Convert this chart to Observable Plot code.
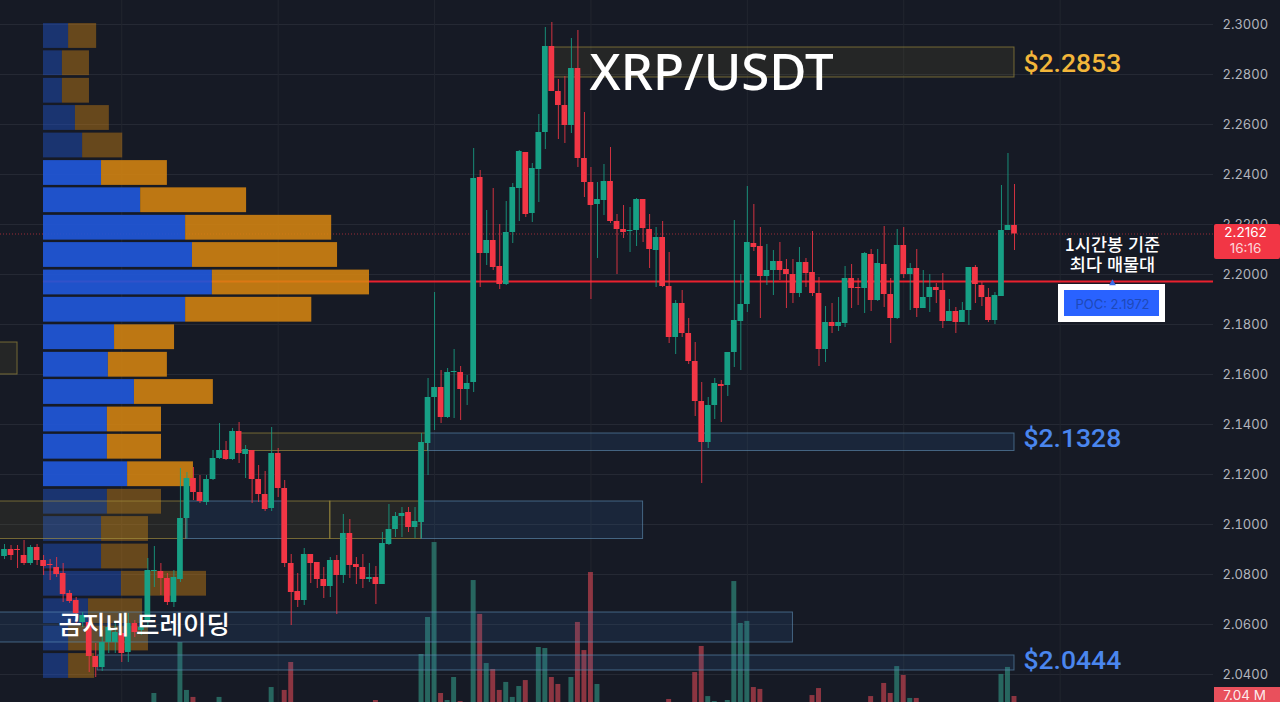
<!DOCTYPE html>
<html lang="ko">
<head>
<meta charset="utf-8">
<script src="https://cdn.jsdelivr.net/npm/d3@7"></script>
<script src="https://cdn.jsdelivr.net/npm/@observablehq/plot@0.6"></script>
<style>
html,body{margin:0;padding:0;background:#161a25;overflow:hidden;width:1280px;height:702px}
#chart{position:relative;width:1280px;height:702px}
#chart svg{position:absolute;left:0;top:0;background:transparent!important}
</style>
</head>
<body>
<div id="chart"></div>
<script>
const open = [
2.0872,2.0900,2.0900,2.0876,2.0844,2.0908,2.0856,2.0840,2.0828,2.0804,
2.0724,2.0696,2.0608,2.0608,2.0472,2.0428,2.0528,2.0528,2.0564,2.0488,
2.0604,2.0576,2.0608,2.0812,2.0812,2.0784,2.0688,2.0780,2.1024,2.1184,
2.1128,2.1088,2.1180,2.1264,2.1296,2.1260,2.1372,2.1280,2.1296,2.1180,
2.1120,2.1064,2.1284,2.1144,2.0844,2.0732,2.0696,2.0880,2.0848,2.0780,
2.0752,2.0856,2.0796,2.0964,2.0840,2.0828,2.0780,2.0788,2.0760,2.0920,
2.0980,2.1032,2.1048,2.0988,2.1008,2.1324,2.1508,2.1548,2.1428,2.1608,
2.1608,2.1540,2.1568,2.2388,2.2084,2.2136,2.2032,2.1960,2.2168,2.2344,
2.2488,2.2244,2.2420,2.2568,2.2912,2.2732,2.2676,2.2596,2.2824,2.2464,
2.2368,2.2280,2.2296,2.2372,2.2212,2.2180,2.2172,2.2176,2.2300,2.2180,
2.2096,2.2148,2.1952,2.1748,2.1884,2.1764,2.1652,2.1492,2.1328,2.1476,
2.1560,2.1556,2.1688,2.1812,2.1880,2.2124,2.2112,2.1992,2.2016,2.2052,
2.2020,2.2000,2.1924,2.2048,2.2008,2.1924,2.1700,2.1808,2.1792,2.1804,
2.1984,2.1948,2.1944,2.2080,2.1896,2.2040,2.1920,2.1824,2.2116,2.2000,
2.2024,2.1864,2.1908,2.1948,2.1936,2.1812,2.1852,2.1808,2.1856,2.2028,
2.1956,2.1908,2.1816,2.1912,2.2176,2.2196];
const close = [
2.0900,2.0876,2.0896,2.0844,2.0908,2.0856,2.0832,2.0836,2.0800,2.0720,
2.0692,2.0644,2.0636,2.0472,2.0428,2.0528,2.0588,2.0568,2.0484,2.0604,
2.0568,2.0588,2.0816,2.0816,2.0784,2.0688,2.0788,2.1024,2.1184,2.1128,
2.1092,2.1180,2.1264,2.1296,2.1260,2.1372,2.1284,2.1300,2.1180,2.1120,
2.1060,2.1284,2.1144,2.0844,2.0728,2.0696,2.0880,2.0844,2.0780,2.0752,
2.0856,2.0796,2.0964,2.0836,2.0828,2.0780,2.0788,2.0760,2.0924,2.0980,
2.1032,2.1044,2.0988,2.1012,2.1328,2.1508,2.1548,2.1428,2.1608,2.1612,
2.1540,2.1564,2.2384,2.2084,2.2136,2.2028,2.1960,2.2168,2.2348,2.2492,
2.2240,2.2424,2.2568,2.2912,2.2732,2.2676,2.2596,2.2824,2.2464,2.2368,
2.2276,2.2300,2.2372,2.2212,2.2180,2.2168,2.2176,2.2300,2.2184,2.2100,
2.2148,2.1952,2.1748,2.1884,2.1764,2.1652,2.1492,2.1328,2.1476,2.1564,
2.1552,2.1688,2.1816,2.1880,2.2128,2.2108,2.1992,2.2016,2.2052,2.2016,
2.2000,2.1924,2.2048,2.2004,2.1924,2.1700,2.1808,2.1792,2.1808,2.1984,
2.1944,2.1944,2.2084,2.1896,2.2044,2.1920,2.1824,2.2116,2.2000,2.2024,
2.1864,2.1908,2.1948,2.1936,2.1812,2.1852,2.1808,2.1856,2.2028,2.1960,
2.1908,2.1816,2.1916,2.2176,2.2196,2.2162];
const high = [
2.0920,2.0916,2.0916,2.0936,2.0916,2.0920,2.0876,2.0860,2.0868,2.0844,
2.0736,2.0708,2.0648,2.0628,2.0524,2.0576,2.0616,2.0604,2.0588,2.0644,
2.0616,2.0616,2.0864,2.0912,2.0844,2.0804,2.0816,2.1224,2.1208,2.1228,
2.1196,2.1196,2.1296,2.1404,2.1332,2.1384,2.1408,2.1316,2.1296,2.1236,
2.1212,2.1388,2.1304,2.1176,2.0880,2.0804,2.0904,2.0880,2.0848,2.0828,
2.0868,2.0876,2.1040,2.1020,2.0868,2.0880,2.0844,2.0832,2.0968,2.1080,
2.1048,2.1068,2.1068,2.1068,2.1364,2.1584,2.1928,2.1616,2.1624,2.1700,
2.1632,2.1596,2.2504,2.2416,2.2256,2.2344,2.2200,2.2292,2.2364,2.2496,
2.2488,2.2444,2.2640,2.2988,2.3008,2.2780,2.2792,2.2944,2.2976,2.2648,
2.2428,2.2368,2.2440,2.2508,2.2240,2.2276,2.2268,2.2304,2.2300,2.2240,
2.2188,2.2212,2.2088,2.1896,2.1936,2.1824,2.1728,2.1568,2.1508,2.1584,
2.1576,2.1688,2.2216,2.2000,2.2352,2.2280,2.2188,2.2120,2.2096,2.2128,
2.2060,2.2060,2.2108,2.2064,2.2172,2.1988,2.1872,2.1884,2.1908,2.2032,
2.2040,2.1984,2.2088,2.2100,2.2100,2.2192,2.1984,2.2180,2.2188,2.2044,
2.2100,2.2016,2.2000,2.1964,2.2004,2.1900,2.1868,2.1888,2.2028,2.2036,
2.1968,2.1944,2.1928,2.2356,2.2484,2.2360];
const low = [
2.0860,2.0856,2.0824,2.0836,2.0836,2.0836,2.0796,2.0776,2.0788,2.0688,
2.0684,2.0604,2.0588,2.0408,2.0388,2.0412,2.0484,2.0484,2.0448,2.0448,
2.0548,2.0556,2.0596,2.0748,2.0716,2.0676,2.0668,2.0768,2.0944,2.1096,
2.1084,2.1076,2.1176,2.1260,2.1256,2.1256,2.1244,2.1184,2.1084,2.1088,
2.1052,2.1052,2.1108,2.0828,2.0596,2.0668,2.0676,2.0764,2.0744,2.0704,
2.0708,2.0640,2.0764,2.0784,2.0760,2.0744,2.0768,2.0680,2.0760,2.0916,
2.0948,2.0948,2.0968,2.0944,2.0944,2.1196,2.1376,2.1404,2.1424,2.1424,
2.1416,2.1476,2.1528,2.1948,2.2036,2.2016,2.1940,2.1956,2.2124,2.2212,
2.2228,2.2208,2.2288,2.2500,2.2732,2.2540,2.2524,2.2564,2.2428,2.2308,
2.1900,2.2064,2.2236,2.2204,2.2000,2.2144,2.2088,2.2112,2.2128,2.2024,
2.1948,2.1948,2.1724,2.1680,2.1748,2.1640,2.1432,2.1164,2.1304,2.1420,
2.1408,2.1512,2.1628,2.1616,2.1848,2.2092,2.1824,2.1956,2.1916,2.1976,
2.1864,2.1884,2.1908,2.1948,2.1912,2.1632,2.1648,2.1764,2.1772,2.1788,
2.1864,2.1876,2.1844,2.1852,2.1892,2.1868,2.1724,2.1820,2.1984,2.1856,
2.1828,2.1864,2.1848,2.1884,2.1784,2.1812,2.1764,2.1808,2.1796,2.1884,
2.1872,2.1808,2.1800,2.1912,2.2176,2.2096];

// Volume bars that reach into the view (candle number, millions)
const volumeBar = [23,27,28,29,33,41,43,44,57,64,65,66,67,68,69,70,72,73,74,75,76,77,78,79,80,82,83,84,85,87,88,89,90,91,102,106,107,108,109,111,112,113,114,115,116,124,125,133,135,136,137,138,139,140,153,154,155];
const volumeM  = [8.8,38.7,10.6,6.5,6.5,12.3,10.6,27,4.7,31.7,53.4,97.4,8.8,4.7,18.2,4.1,75.1,55.2,26.4,22.9,10.6,15.3,6.5,12.9,16.4,35.8,35.2,18.2,14.1,18.2,50.5,34,79.8,14.1,5.3,21.1,36.4,7,4.1,4.7,74.5,49.9,51.1,12.3,11.2,7.6,11.7,7,14.7,8.8,24.6,19.4,5.9,5.9,20,24.1,7.04];

// Volume profile
const profileLevel = [2.2954,2.2845,2.2735,2.2626,2.2516,2.2406,2.2297,2.2187,2.2078,2.1968,2.1859,2.1749,2.1639,2.1530,2.1420,2.1311,2.1201,2.1091,2.0982,2.0872,2.0763,2.0653,2.0544,2.0434];
const profileBuy  = [7.7,5.8,5.8,9.8,12,17.8,29.8,43.6,45.7,51.8,43.6,21.8,19.9,27.9,19.6,19.6,25.8,19.6,17.8,17.8,23.9,13.8,7.7,7.7];
const profileSell = [8.6,8.3,8.3,10.4,12.3,20.2,32.5,44.8,44.5,48.2,38.7,18.4,18.1,24.2,16.6,16.6,20.2,16.6,14.4,14.4,26.1,16.6,24.5,8];
const profileInValueArea = [0,0,0,0,0,1,1,1,1,1,1,1,1,1,1,1,1,0,0,0,0,0,0,0];

// Zones
const zoneStart = [84.3,-1,36.2,65,-1,42.8,50,27.9,64,-1,14.3];
const zoneEnd   = [155,2,65,155,27.9,50,64,42.8,98,121,155];
const zoneHigh  = [2.2908,2.1728,2.1364,2.1364,2.1092,2.1092,2.1092,2.1092,2.1092,2.0648,2.0476];
const zoneLow   = [2.2788,2.1600,2.1294,2.1294,2.0942,2.0942,2.0942,2.0942,2.0942,2.0528,2.0416];
const zoneKind  = ["y","y","y","b","y","y","y","b","b","b","b"];

const priceTicks = [2.30,2.28,2.26,2.24,2.22,2.20,2.18,2.16,2.14,2.12,2.10,2.08,2.06,2.04];
const timeTicks = [18,42,66,90,114,138,162];
const pocPrice = 2.1972;
const lastPrice = 2.2162;

const GREEN="#17a085", RED="#f23645";
const xIdx = {domain:[-0.614,185.54],range:[0,1213],axis:null};
const yPrice = {domain:[2.0288,2.3096],range:[702,0],axis:null};
const base = {width:1280,height:702,marginTop:0,marginLeft:0,marginBottom:0,marginRight:67};
const chart = document.getElementById("chart");
const add = o => chart.append(Plot.plot({...base,...o}));

const candles = open.map((o,i)=>({i,o,c:close[i],h:high[i],l:low[i],up:close[i]>=o}));
const vols = volumeBar.map((i,k)=>({i,v:volumeM[k],up:candles[i].up}));
const profile = profileLevel.map((p,k)=>({p,buy:profileBuy[k],sell:profileSell[k],on:profileInValueArea[k]}));
const zones = zoneStart.map((s,k)=>({s,e:zoneEnd[k],h:zoneHigh[k],l:zoneLow[k],kind:zoneKind[k]}));

// grid, axis, level lines
add({x:xIdx,y:yPrice,marks:[
  Plot.ruleY(priceTicks,{stroke:"#252934",strokeWidth:1}),
  Plot.ruleX(timeTicks,{stroke:"#22262f",strokeWidth:1}),
  Plot.axisY(priceTicks,{anchor:"right",tickSize:0,tickPadding:9,tickFormat:d3.format(".4f"),fontSize:13,fontFamily:"Inter",fill:"#b2b5be",label:null}),
  Plot.ruleY([lastPrice],{x1:-0.614,x2:185.54,stroke:RED,strokeOpacity:.6,strokeWidth:1,strokeDasharray:"1 2"}),
  Plot.ruleY([pocPrice],{x1:5.98,x2:185.54,stroke:"#e9212e",strokeWidth:2.2})
]});
// volume
add({x:xIdx,y:{domain:[0,100],range:[708,537.6],axis:null},marks:[
  Plot.rect(vols,{x1:d=>d.i-.38,x2:d=>d.i+.38,y1:0,y2:"v",fill:d=>d.up?"#2f8a7c":"#c4434f",fillOpacity:.68})
]});
// profile
add({x:{domain:[0,100],range:[43,369],axis:null},y:yPrice,marginRight:0,marks:[
  Plot.rect(profile,{x1:0,x2:"buy",y1:d=>d.p-.00496,y2:d=>d.p+.00496,fill:"#2157d8",fillOpacity:d=>d.on?.92:.42}),
  Plot.rect(profile,{x1:"buy",x2:d=>d.buy+d.sell,y1:d=>d.p-.00496,y2:d=>d.p+.00496,fill:"#d98710",fillOpacity:d=>d.on?.86:.42})
]});
// zones + candles
add({x:xIdx,y:yPrice,marks:[
  Plot.rect(zones,{x1:"s",x2:"e",y1:"l",y2:"h",fill:d=>d.kind=="y"?"#b9a43a":"#2f6aa8",fillOpacity:d=>d.kind=="y"?.09:.16,stroke:d=>d.kind=="y"?"#a9963f":"#5f8fb5",strokeOpacity:.62,strokeWidth:1}),
  Plot.ruleX(candles,{x:"i",y1:"l",y2:"h",stroke:d=>d.up?GREEN:RED,strokeWidth:1,strokeOpacity:.85}),
  Plot.rect(candles,{x1:d=>d.i-.44,x2:d=>d.i+.44,y1:"o",y2:"c",fill:d=>d.up?GREEN:RED})
]});
// annotations (x in page pixels, y in price)
const levelLabels = [{t:"$2.2853",p:2.2844,c:"#f3b63a"},{t:"$2.1328",p:2.1344,c:"#4a86ee"},{t:"$2.0444",p:2.0456,c:"#4a86ee"}];
add({x:{domain:[0,1280],range:[0,1280],axis:null},y:yPrice,marginRight:0,marks:[
  Plot.rect([0],{x1:1214,x2:1280,y1:2.2060,y2:2.2200,fill:RED,rx:2}),
  Plot.text(["2.2162"],{x:1245,y:2.2168,fill:"#fff",fontSize:13.5,fontFamily:"Inter"}),
  Plot.text(["16:16"],{x:1245,y:2.2104,fill:"#fff",fillOpacity:.8,fontSize:13.5,fontFamily:"Inter"}),
  Plot.rect([0],{x1:1214,x2:1280,y1:2.0288,y2:2.0348,fill:"#e9505c"}),
  Plot.text(["7.04 M"],{x:1244,y:2.0314,fill:"#fff",fillOpacity:.9,fontSize:13.5,fontFamily:"Inter"}),
  Plot.rect([0],{x1:1058,x2:1165,y1:2.1808,y2:2.1960,fill:"#fff"}),
  Plot.rect([0],{x1:1064,x2:1159,y1:2.1832,y2:2.1936,fill:"#2962ff"}),
  Plot.text(["POC: 2.1972"],{x:1112,y:2.1880,fill:"#1e49b8",fontSize:13,fontFamily:"Inter"}),
  Plot.dot([0],{x:1112,y:2.1965,symbol:"triangle",r:2.5,fill:"#3b6be6"}),
  Plot.text(["1시간봉 기준"],{x:1112,y:2.2116,fill:"#fff",fontSize:17.5,fontWeight:500,fontFamily:"Noto Sans CJK KR"}),
  Plot.text(["최다 매물대"],{x:1112,y:2.2036,fill:"#fff",fontSize:17.5,fontWeight:500,fontFamily:"Noto Sans CJK KR"}),
  Plot.text(["XRP/USDT"],{x:589,y:2.2803,textAnchor:"start",fill:"#fff",fontSize:51,fontWeight:500,fontFamily:"Noto Sans"}),
  Plot.text(["곰지네 트레이딩"],{x:58,y:2.0596,textAnchor:"start",fill:"#fff",fontSize:25.5,fontWeight:500,fontFamily:"Noto Sans CJK KR"}),
  Plot.text(levelLabels,{x:1023,y:"p",text:"t",fill:"c",textAnchor:"start",fontSize:26.5,fontWeight:500,fontFamily:"Roboto"})
]});
</script>
</body>
</html>
